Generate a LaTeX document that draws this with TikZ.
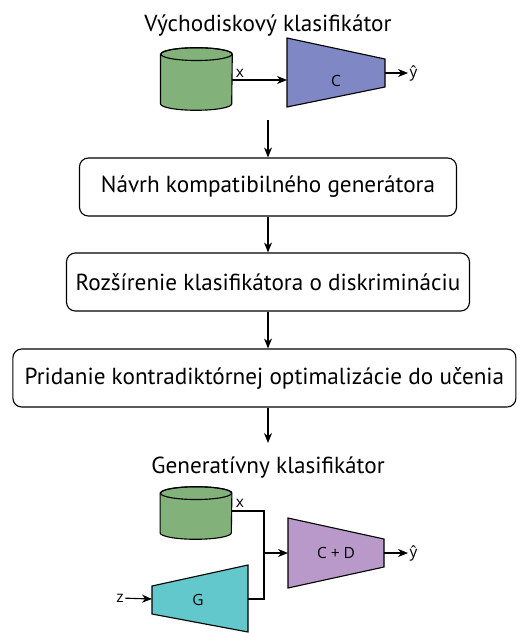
\documentclass[tikz,border=0pt]{standalone}
\usepackage{fontspec}
\setmainfont{PT Sans}
\newfontfamily\labelfont{Open Sans}
\usetikzlibrary{arrows.meta}

\definecolor{dbgreen}{HTML}{82B27A}
\definecolor{clsblue}{HTML}{7F88C5}
\definecolor{cdpurple}{HTML}{B899C9}
\definecolor{gencyan}{HTML}{62C8CB}

% cylinder drawn round an empty node #1
\newcommand{\drawdb}[1]{%
    \draw[line, fill=dbgreen] ([yshift=-0.16cm]#1.north west) -- ([yshift=0.16cm]#1.south west)
        arc[start angle=180, end angle=360, x radius=0.89cm, y radius=0.16cm]
        -- ([yshift=-0.16cm]#1.north east)
        arc[start angle=0, end angle=180, x radius=0.89cm, y radius=0.16cm] -- cycle;
    \draw[line] ([yshift=-0.16cm]#1.north) ellipse[x radius=0.89cm, y radius=0.16cm];
}

\begin{document}
\begin{tikzpicture}[
        stepbox/.style={rectangle, rounded corners=0.22cm, draw, line width=0.8pt, align=center, minimum height=1.45cm, font=\fontsize{16.5}{20}\selectfont},
        title/.style={anchor=base, font=\fontsize{16.5}{20}\selectfont},
        db/.style={rectangle, inner sep=0pt, minimum width=1.78cm},
        block/.style={draw, line width=0.8pt},
        lbl/.style={font=\labelfont\fontsize{11}{13}\selectfont, inner sep=1pt},
        line/.style={line width=0.8pt},
        arrow/.style={-{Stealth[length=0.25cm, width=0.2cm]}, line width=0.8pt}
    ]
        \useasboundingbox (0,0) rectangle (12.975,-15.825);

        % baseline classifier
        \node[title] (base-title) at (6.7,-0.8) {Východiskový klasifikátor};
        \node[db, minimum height=1.55cm] (db1) at (4.91,-1.975) {};
        \drawdb{db1}
        \draw[block, fill=clsblue] (7.175,-0.95) -- (9.625,-1.475) -- (9.625,-2.175) -- (7.175,-2.675) -- cycle;
        \node[lbl] (cls) at (8.4,-2.025) {C};
        \coordinate (cls-in) at (7.175,-2.0);
        \coordinate (cls-out) at (9.625,-1.825);
        \node[lbl, anchor=west] (yhat1) at (10.2,-1.825) {ŷ};
        \node[lbl] (x1) at (6.0,-1.825) {x};

        \draw[arrow] (db1.east |- cls-in) -- (cls-in);
        \draw[arrow] (cls-out) -- (yhat1.west);

        % steps
        \coordinate (base-end) at (6.7,-3.0);
        \node[stepbox, minimum width=9.425cm] (design) at (6.7,-4.675) {Návrh kompatibilného generátora};
        \node[stepbox, minimum width=10.075cm] (extend) at (6.7,-7.05) {Rozšírenie klasifikátora o diskrimináciu};
        \node[stepbox, minimum width=12.575cm] (adv) at (6.61,-9.45) {Pridanie kontradiktórnej optimalizácie do učenia};
        \coordinate (gen-top) at (6.7,-11.075);

        \draw[arrow] (base-end) -- (design);
        \draw[arrow] (design) -- (extend);
        \draw[arrow] (extend.south) -- (extend.south |- adv.north);
        \draw[arrow] (adv.south -| extend.south) -- (gen-top);

        % generative classifier
        \node[title] (gen-title) at (6.7,-11.825) {Generatívny klasifikátor};
        \node[db, minimum height=1.3cm] (db2) at (4.9,-12.825) {};
        \drawdb{db2}
        \node[lbl] (x2) at (6.0,-12.575) {x};

        \draw[block, fill=gencyan] (3.8,-14.65) -- (6.2,-14.125) -- (6.2,-15.8) -- (3.8,-15.35) -- cycle;
        \node[lbl] (gen) at (4.95,-15.0) {G};
        \coordinate (gen-in) at (3.8,-14.975);
        \coordinate (gen-out) at (6.2,-14.975);
        \node[lbl] (z) at (3.0,-14.95) {z};

        \draw[block, fill=cdpurple] (7.2,-12.95) -- (9.6,-13.475) -- (9.6,-14.175) -- (7.2,-14.7) -- cycle;
        \node[lbl] (cd) at (8.4,-13.825) {C + D};
        \coordinate (cd-in) at (7.2,-13.825);
        \coordinate (cd-out) at (9.6,-13.825);
        \node[lbl, anchor=west] (yhat2) at (10.2,-13.825) {ŷ};

        \coordinate (join) at (6.6,-13.825);
        \coordinate (x2-out) at (5.8,-12.775);
        \draw[line] (db2.east |- x2-out) -| (join |- gen-out) -- (gen-out);
        \draw[arrow] (join) -- (cd-in);
        \draw[arrow] (z) -- (gen-in);
        \draw[arrow] (cd-out) -- (yhat2.west);
    \end{tikzpicture}
\end{document}
